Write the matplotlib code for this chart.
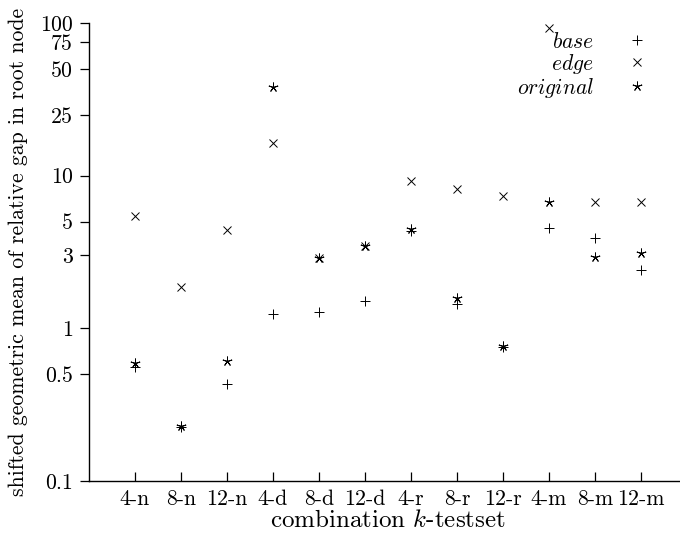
import numpy as np
import matplotlib
matplotlib.use("Agg")
import matplotlib.pyplot as plt

plt.rcParams["font.family"] = ["cmr10", "DejaVu Serif"]
plt.rcParams["mathtext.fontset"] = "cm"
plt.rcParams["axes.formatter.use_mathtext"] = True
plt.rcParams["font.size"] = 15.7

# ── data ─────────────────────────────────────────────────────────────────────
labels   = ["4-n", "8-n", "12-n", "4-d", "8-d", "12-d",
            "4-r", "8-r", "12-r", "4-m", "8-m", "12-m"]
base     = [0.56, 0.225, 0.435, 1.235, 1.28, 1.50, 4.35, 1.44, 0.75, 4.54, 3.90, 2.42]
edge     = [5.47, 1.86, 4.38, 16.3, 2.90, 3.48, 9.18, 8.17, 7.40, 92.6, 6.68, 6.68]
original = [0.59, 0.228, 0.608, 38.0, 2.90, 3.48, 4.45, 1.58, 0.762, 6.71, 2.93, 3.11]
yticks   = [0.1, 0.5, 1, 3, 5, 10, 25, 50, 75, 100]
ytick_labels = ["0.1", "0.5", "1", "3", "5", "10", "25", "50", "75", "100"]

x = np.arange(1, len(labels) + 1)

fig = plt.figure(figsize=(6.8, 5.39), dpi=100)
ax = fig.add_axes([89/680, 1 - 481/539, 598/680, 458/539])

mk = dict(linestyle="none", color="black", markeredgewidth=0.7)
ax.plot(x, base, marker="+", markersize=7, label="$base$", **mk)
ax.plot(x, edge, marker="x", markersize=5.5, label="$edge$", **mk)
ax.plot(x, original, marker=(5, 2, 0), markersize=7, label="$original$", **mk)

ax.set_yscale("log")
ax.set_ylim(0.1, 100)
ax.set_xlim(0, 13)
ax.set_yticks(yticks, ytick_labels)
ax.minorticks_off()
ax.set_xticks(x, labels)

for s in ["top", "right"]:
    ax.spines[s].set_visible(False)
for s in ["left", "bottom"]:
    ax.spines[s].set_linewidth(1.0)
ax.tick_params(axis="y", direction="out", length=6.5, width=0.9, pad=5)
ax.tick_params(axis="x", direction="in", length=6.5, width=0.9, pad=6)

ax.set_xlabel("combination $k$-testset", fontsize=18, labelpad=1)
ax.set_ylabel("shifted geometric mean of relative gap in root node", labelpad=9)

# gnuplot-style key: right-aligned labels, markers to the right
ax.legend(loc="upper right", bbox_to_anchor=(0.9665, 1.0), frameon=False,
          markerfirst=False, handlelength=2, handletextpad=1.0,
          labelspacing=0.0, borderaxespad=0.0, fontsize=15.5)

fig.savefig("out.png", dpi=100)
